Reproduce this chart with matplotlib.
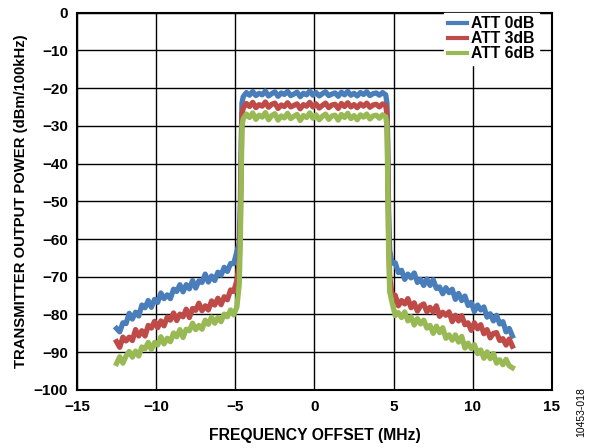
import numpy as np
import matplotlib
matplotlib.use("Agg")
import matplotlib.pyplot as plt

plt.rcParams['font.family'] = ['Liberation Sans', 'DejaVu Sans']

# frequency sampling grid (MHz)
freq_left = np.round(np.arange(-12.5, -4.85, 0.2), 2)
freq_edge_left = [-4.75, -4.68, -4.63, -4.58]
freq_in = np.round(np.arange(-4.5, 4.55, 0.2), 2)
freq_edge_right = [4.58, 4.63, 4.68, 4.75]
freq_right = np.round(np.arange(4.9, 12.55, 0.2), 2)

# ATT 0dB (dBm/100kHz)
att0_left = [-83.7, -84.6, -82.2, -82.4, -79.7, -81.2, -79.4, -80.4, -77.5, -78.2,
             -76.3, -78.1, -76.0, -76.8, -74.3, -75.8, -74.8, -75.8, -73.3, -73.9,
             -72.1, -74.0, -72.1, -73.2, -71.0, -73.0, -71.1, -71.5, -69.3, -71.4,
             -69.8, -71.0, -68.8, -69.6, -67.5, -68.6, -66.5, -66.5, -63.4]
att0_edge_left = [-61.0, -50.0, -35.0, -24.0]
att0_in = [-22.3, -21.2, -21.9, -20.9, -22.0, -21.4, -21.8, -20.8, -22.1, -21.5,
           -21.0, -22.2, -21.3, -21.7, -20.9, -22.0, -21.6, -21.1, -22.3, -21.4,
           -21.8, -20.8, -21.9, -21.2, -22.1, -21.5, -21.0, -22.0, -21.6, -21.3,
           -22.2, -21.1, -21.8, -20.9, -21.9, -21.4, -22.1, -21.2, -21.7, -21.0,
           -22.0, -21.5, -21.3, -21.9, -21.2, -21.8]
att0_edge_right = [-24.0, -35.0, -52.0, -63.0]
att0_right = [-66.4, -66.3, -68.9, -68.3, -70.7, -69.3, -70.3, -69.0, -71.5, -70.7,
              -72.3, -70.6, -72.3, -70.8, -73.1, -72.7, -74.5, -72.9, -74.2, -73.3,
              -76.0, -74.4, -76.3, -75.1, -77.6, -76.8, -79.2, -77.5, -78.8, -78.0,
              -80.7, -79.8, -81.7, -80.2, -82.5, -81.9, -84.6, -83.7, -85.7]

# ATT 3dB
att3_left = [-87.2, -88.7, -86.0, -87.0, -86.0, -86.9, -84.0, -85.7, -84.3, -85.7,
             -82.9, -83.6, -81.8, -83.5, -81.7, -83.0, -80.7, -81.5, -79.6, -81.6,
             -79.9, -80.6, -78.6, -80.8, -78.4, -78.9, -77.0, -79.0, -77.7, -78.8,
             -76.4, -77.5, -75.7, -77.4, -75.3, -76.1, -73.5, -73.9, -71.0]
att3_edge_left = [-66.0, -55.0, -40.0, -27.0]
att3_in = [-25.3, -24.1, -24.9, -23.8, -25.2, -24.4, -24.8, -23.7, -25.1, -24.3,
           -24.0, -25.4, -24.5, -24.9, -23.9, -25.0, -24.6, -24.2, -25.5, -24.4,
           -24.8, -23.8, -25.0, -24.2, -25.3, -24.6, -24.0, -25.2, -24.5, -24.3,
           -25.4, -24.1, -24.9, -23.9, -25.0, -24.4, -25.2, -24.2, -24.8, -24.0,
           -25.1, -24.5, -24.3, -25.0, -24.2, -24.6]
att3_edge_right = [-27.0, -40.0, -58.0, -70.0]
att3_right = [-74.7, -74.9, -77.7, -76.3, -77.2, -75.8, -78.2, -76.9, -79.1, -77.7,
              -77.2, -79.3, -78.1, -79.4, -77.7, -80.5, -79.4, -80.2, -79.3, -81.9,
              -80.2, -81.7, -80.3, -82.7, -82.2, -84.2, -82.2, -83.8, -82.7, -85.1,
              -84.0, -86.2, -85.0, -84.8, -86.9, -86.4, -88.1, -86.5, -88.4]

# ATT 6dB
att6_left = [-93.0, -91.2, -92.9, -91.0, -89.8, -91.3, -89.7, -91.0, -88.6, -89.1,
             -87.4, -89.3, -87.4, -88.1, -85.9, -87.8, -86.3, -87.2, -84.9, -85.9,
             -84.0, -86.1, -83.9, -84.3, -82.3, -84.0, -82.9, -83.9, -81.5, -82.6,
             -80.7, -82.3, -80.8, -81.9, -79.9, -80.6, -78.8, -80.1, -78.0]
att6_edge_left = [-72.0, -60.0, -45.0, -30.0]
att6_in = [-28.2, -26.9, -27.8, -26.6, -28.3, -27.2, -27.7, -26.5, -28.4, -27.3,
           -26.8, -28.5, -27.4, -27.9, -26.7, -28.1, -27.5, -27.0, -28.6, -27.3,
           -27.8, -26.6, -28.0, -27.1, -28.4, -27.5, -26.9, -28.3, -27.4, -27.2,
           -28.5, -27.0, -27.8, -26.7, -28.1, -27.3, -28.4, -27.1, -27.7, -26.9,
           -28.2, -27.4, -27.2, -28.0, -27.1, -27.6]
att6_edge_right = [-30.0, -45.0, -62.0, -74.0]
att6_right = [-76.8, -80.3, -79.5, -80.8, -79.3, -81.7, -80.6, -82.8, -81.1, -82.5,
              -81.5, -83.6, -82.9, -85.0, -83.1, -84.8, -83.5, -86.3, -85.4, -86.8,
              -85.4, -87.3, -85.8, -88.9, -87.6, -89.0, -88.0, -90.4, -89.4, -91.6,
              -89.9, -91.7, -90.3, -92.9, -92.0, -93.3, -91.9, -93.6, -94.1]

series_labels = ["ATT 0dB", "ATT 3dB", "ATT 6dB"]
colors = ["#4a7ebb", "#be4b48", "#98b954"]

freq = np.concatenate([freq_left, freq_edge_left, freq_in, freq_edge_right, freq_right])
series = [
    np.concatenate([att0_left, att0_edge_left, att0_in, att0_edge_right, att0_right]),
    np.concatenate([att3_left, att3_edge_left, att3_in, att3_edge_right, att3_right]),
    np.concatenate([att6_left, att6_edge_left, att6_in, att6_edge_right, att6_right]),
]

xticks = [-15, -10, -5, 0, 5, 10, 15]
yticks = [0, -10, -20, -30, -40, -50, -60, -70, -80, -90, -100]

fig = plt.figure(figsize=(5.92, 4.48), dpi=100)
ax = fig.add_axes([0.130, 0.1295, 0.8024, 0.8425])

for y, c, lab in zip(series, colors, series_labels):
    ax.plot(freq, y, color=c, lw=3.8, label=lab, solid_joinstyle='round')

ax.set_xlim(-15, 15)
ax.set_ylim(-100, 0)
ax.set_xticks(xticks)
ax.set_yticks(yticks)
ax.set_xticklabels([str(t).replace('-', '\u2212') for t in xticks])
ax.set_yticklabels([str(t).replace('-', '\u2212') for t in yticks])
ax.grid(True, color='black', lw=1.0)
ax.set_axisbelow(True)
for s in ax.spines.values():
    s.set_linewidth(1.5)
    s.set_color('black')
ax.tick_params(axis='x', length=0, pad=7, labelsize=11)
ax.tick_params(axis='y', length=0, pad=6.5, labelsize=11)
for lbl in ax.get_xticklabels() + ax.get_yticklabels():
    lbl.set_fontweight('bold')

ax.set_xlabel("FREQUENCY OFFSET (MHz)", fontsize=11.3, fontweight='bold', labelpad=10)
ax.set_ylabel("TRANSMITTER OUTPUT POWER (dBm/100kHz)", fontsize=10.7, fontweight='bold', labelpad=4)

leg = ax.legend(loc='upper right', bbox_to_anchor=(0.972, 1.0), frameon=True,
                fancybox=False, framealpha=1.0, edgecolor='white',
                prop={'weight': 'bold', 'size': 11.3},
                handlelength=1.2, handletextpad=0.3, labelspacing=0.0,
                borderpad=0.25, borderaxespad=0.0)
for h in leg.get_lines():
    h.set_linewidth(3)

fig.text(0.982, 0.08, "10453-018", rotation=90, fontsize=7.5, ha='center', va='center')

fig.savefig("out.png", dpi=100)
